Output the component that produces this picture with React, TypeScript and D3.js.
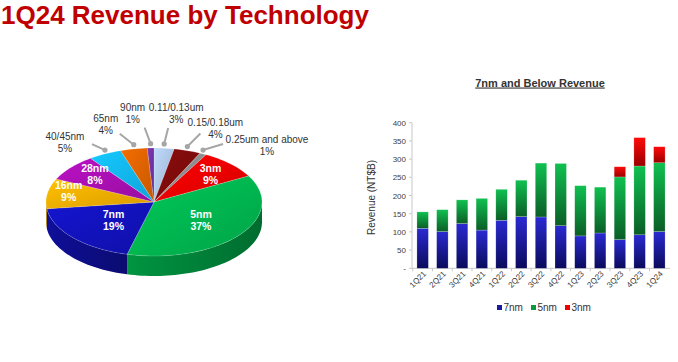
import React from 'react';
import * as d3 from 'd3';

// ---------- Pie data ----------
const pieLabels = ['0.11/0.13um', '0.15/0.18um', '0.25um and above', '3nm', '5nm', '7nm', '16nm', '28nm', '40/45nm', '65nm', '90nm'];
const pieShares = [3, 4, 1, 9, 37, 19, 9, 8, 5, 4, 1];
const pieColors = ['#a9c0de', '#7c0b0b', '#8a8a8a', '#ea0000', '#00b24e', '#1212b8', '#eeaa00', '#a50fae', '#12b2ee', '#d86000', '#7030a0'];

// ---------- Bar data ----------
const quarters = ['1Q21', '2Q21', '3Q21', '4Q21', '1Q22', '2Q22', '3Q22', '4Q22', '1Q23', '2Q23', '3Q23', '4Q23', '1Q24'];
const rev7nm = [110, 101, 123, 105, 132, 142, 141, 117, 89, 97, 79, 92, 101];
const rev5nm = [45, 60, 65, 87, 85, 100, 148, 171, 138, 126, 172, 189, 189];
const rev3nm = [0, 0, 0, 0, 0, 0, 0, 0, 0, 0, 28, 78, 44];
const yTicks = [0, 50, 100, 150, 200, 250, 300, 350, 400];
const seriesNames = ['7nm', '5nm', '3nm'];

// ---------- Layout (not data) ----------
const PIE = { cx: 154, cy: 202, rx: 108, ry: 54, depth: 20 };
// [kx, ky] radial factors for labels inside the slices
const insideK: Record<string, number[]> = {
  '3nm': [0.74, 0.74],
  '5nm': [0.55, 0.53],
  '7nm': [0.5, 0.5],
  '16nm': [0.8, 1.27],
  '28nm': [0.71, 0.8],
};
// [lineDx, lineDy, textDx, textDy] relative to the leader dot
const outsideLayout: Record<string, number[]> = {
  '40/45nm': [-13, -6, -40, -10],
  '65nm': [-14, -11, -28, -23],
  '90nm': [-6, -16, -18, -33],
  '0.11/0.13um': [4, -16, 12, -33],
  '0.15/0.18um': [13, -13, 28, -21],
  '0.25um and above': [20, -6, 64, -7],
};
const BAR = { left: 412, right: 670, top: 122.7, bottom: 268.3 };

function shade(c: string, k: number) {
  const col = d3.color(c)!;
  return k > 0 ? col.brighter(k).formatHex() : col.darker(-k).formatHex();
}

function ptTop(a: number, kx = 1, ky = kx) {
  return [PIE.cx + PIE.rx * kx * Math.sin(a), PIE.cy - PIE.ry * ky * Math.cos(a)];
}

function arcPts(a0: number, a1: number) {
  const n = Math.max(2, Math.ceil(((a1 - a0) / (Math.PI * 2)) * 180));
  return d3.range(n + 1).map((i) => ptTop(a0 + ((a1 - a0) * i) / n));
}

export default function App() {
  const pie = d3.pie<number>().sort(null).startAngle(0).endAngle(Math.PI * 2)(pieShares);

  const x = d3.scaleBand<string>().domain(quarters).range([BAR.left, BAR.right]).paddingInner(0.42).paddingOuter(0.25);
  const y = d3.scaleLinear().domain([0, 400]).range([BAR.bottom, BAR.top]);
  const stackData = quarters.map((q, i) => ({ q, '7nm': rev7nm[i], '5nm': rev5nm[i], '3nm': rev3nm[i] }));
  const stack = d3.stack<any>().keys(seriesNames)(stackData);
  const barGrad: Record<string, [string, string]> = {
    '7nm': ['#2a2ad2', '#0a0a5c'],
    '5nm': ['#10c050', '#0a5e26'],
    '3nm': ['#ff0a0a', '#9a0000'],
  };
  const legendColor: Record<string, string> = { '7nm': '#1a1aa0', '5nm': '#0a9a3e', '3nm': '#ee0000' };

  return (
    <svg width={678} height={362} style={{ position: 'absolute', left: 0, top: 0, background: '#fff' }} fontFamily="Arial, 'Liberation Sans', sans-serif">
      <defs>
        {pie.map((p, i) => (
          <React.Fragment key={i}>
            <linearGradient id={`pt${i}`} x1="0" y1="0" x2="1" y2="1">
              <stop offset="0" stopColor={shade(pieColors[i], 0.35)} />
              <stop offset="1" stopColor={shade(pieColors[i], -0.25)} />
            </linearGradient>
            <linearGradient id={`ps${i}`} x1="0" y1="0" x2="1" y2="0">
              <stop offset="0" stopColor={shade(pieColors[i], -0.5)} />
              <stop offset="0.5" stopColor={shade(pieColors[i], -0.9)} />
              <stop offset="1" stopColor={shade(pieColors[i], -1.4)} />
            </linearGradient>
          </React.Fragment>
        ))}
        {seriesNames.map((s) => (
          <linearGradient key={s} id={`bg${s}`} x1="0" y1="0" x2="0" y2="1">
            <stop offset="0" stopColor={barGrad[s][0]} />
            <stop offset="1" stopColor={barGrad[s][1]} />
          </linearGradient>
        ))}
      </defs>

      {/* Title */}
      <text x={1} y={23.5} fontSize={26} fontWeight="bold" fill="#c00000">1Q24 Revenue by Technology</text>

      {/* Pie sides */}
      {pie.map((p, i) => {
        const a0 = Math.max(p.startAngle, Math.PI / 2);
        const a1 = Math.min(p.endAngle, (Math.PI * 3) / 2);
        if (a1 <= a0) return null;
        const top = arcPts(a0, a1);
        const bot = top.map(([px, py]) => [px, py + PIE.depth]).reverse();
        const d = 'M' + top.concat(bot).map((pt) => pt.join(',')).join('L') + 'Z';
        return <path key={`s${i}`} d={d} fill={`url(#ps${i})`} />;
      })}
      {/* Pie tops */}
      {pie.map((p, i) => {
        const pts = arcPts(p.startAngle, p.endAngle);
        const d = `M${PIE.cx},${PIE.cy}L` + pts.map((pt) => pt.join(',')).join('L') + 'Z';
        return <path key={`t${i}`} d={d} fill={`url(#pt${i})`} stroke="#ffffff" strokeOpacity={0.35} strokeWidth={0.5} />;
      })}

      {/* Inside labels */}
      {pie.map((p, i) => {
        const name = pieLabels[i];
        if (!(name in insideK)) return null;
        const mid = (p.startAngle + p.endAngle) / 2;
        const [lx, ly] = ptTop(mid, insideK[name][0], insideK[name][1]);
        return (
          <text key={`il${i}`} x={lx} y={ly} textAnchor="middle" fontSize={10.5} fontWeight="bold" fill="#ffffff">
            <tspan x={lx} dy={-2}>{name}</tspan>
            <tspan x={lx} dy={12}>{`${pieShares[i]}%`}</tspan>
          </text>
        );
      })}

      {/* Outside labels */}
      {pie.map((p, i) => {
        const name = pieLabels[i];
        const lay = outsideLayout[name];
        if (!lay) return null;
        const mid = (p.startAngle + p.endAngle) / 2;
        const [dx, dy] = ptTop(mid, 1, 1.08);
        const tx = dx + lay[2];
        const ty = dy + lay[3];
        return (
          <g key={`ol${i}`}>
            <line x1={dx} y1={dy} x2={dx + lay[0]} y2={dy + lay[1]} stroke="#a6a6a6" strokeWidth={2} />
            <circle cx={dx} cy={dy} r={2.6} fill="#a6a6a6" />
            <text x={tx} y={ty} textAnchor="middle" fontSize={10} fill="#333333">
              <tspan x={tx}>{name}</tspan>
              <tspan x={tx} dy={12}>{`${pieShares[i]}%`}</tspan>
            </text>
          </g>
        );
      })}

      {/* Bar chart title */}
      <text x={540} y={86.5} textAnchor="middle" fontSize={11} fontWeight="bold" fill="#333333" textDecoration="underline">7nm and Below Revenue</text>

      {/* Axes */}
      <line x1={BAR.left} y1={y(0)} x2={BAR.left} y2={y(400)} stroke="#c8c8c8" strokeWidth={1} />
      <line x1={BAR.left} y1={y(0)} x2={BAR.right} y2={y(0)} stroke="#c8c8c8" strokeWidth={1} />
      {yTicks.map((t) => (
        <g key={t}>
          <line x1={BAR.left - 3} x2={BAR.left} y1={y(t)} y2={y(t)} stroke="#c8c8c8" />
          <text x={BAR.left - 6} y={y(t) + 3} textAnchor="end" fontSize={8} fill="#404040">{t === 0 ? '-' : t}</text>
        </g>
      ))}
      {quarters.map((q) => (
        <line key={q} x1={(x(q) as number) - (x.step() - x.bandwidth()) / 2} x2={(x(q) as number) - (x.step() - x.bandwidth()) / 2} y1={y(0)} y2={y(0) + 3} stroke="#c8c8c8" />
      ))}
      <text transform={`translate(375,${(BAR.top + BAR.bottom) / 2 + 2}) rotate(-90)`} textAnchor="middle" fontSize={10} fill="#333333">Revenue (NT$B)</text>

      {/* Bars */}
      {stack.map((layer) => (
        <g key={layer.key}>
          {layer.map((d: any, i: number) => {
            const h = y(d[0]) - y(d[1]);
            if (h <= 0) return null;
            return <rect key={i} x={x(quarters[i])} y={y(d[1])} width={x.bandwidth()} height={h} fill={`url(#bg${layer.key})`} stroke="#ffffff" strokeOpacity={0.4} strokeWidth={0.5} />;
          })}
        </g>
      ))}

      {/* X labels */}
      {quarters.map((q) => {
        const cxq = (x(q) as number) + x.bandwidth() / 2 + 4;
        return (
          <text key={q} transform={`translate(${cxq},${y(0) + 6}) rotate(-45)`} textAnchor="end" fontSize={8} fill="#404040">{q}</text>
        );
      })}

      {/* Legend */}
      {seriesNames.map((s, i) => {
        const lx = 497 + i * 34;
        return (
          <g key={s}>
            <rect x={lx} y={305} width={5} height={5} fill={legendColor[s]} />
            <text x={lx + 6.5} y={311} fontSize={10} fill="#333333">{s}</text>
          </g>
        );
      })}
    </svg>
  );
}
